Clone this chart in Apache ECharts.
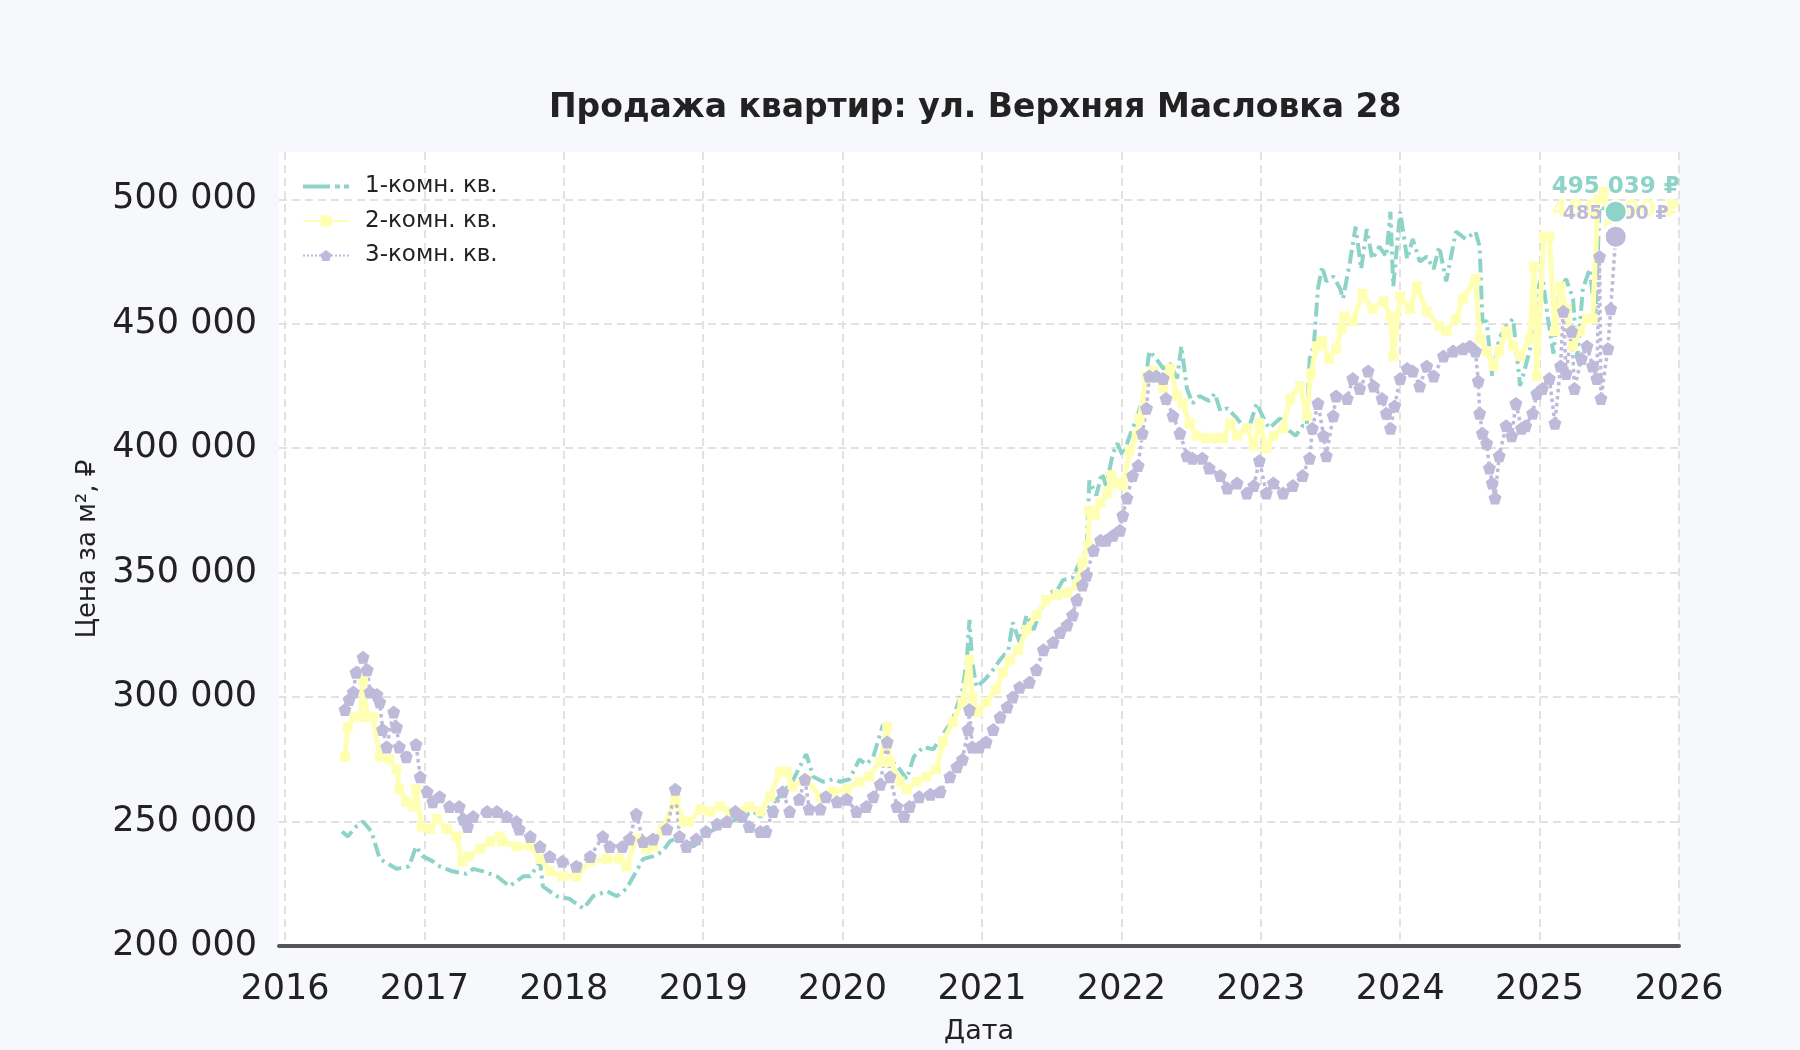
<!DOCTYPE html>
<html>
<head>
<meta charset="utf-8">
<script src="https://cdn.jsdelivr.net/npm/echarts@6/dist/echarts.min.js"></script>
<style>
  html, body { margin: 0; padding: 0; background: #f7f8fc; }
  #chart { width: 1800px; height: 1050px; }
</style>
</head>
<body>
<div id="chart"></div>
<script>
// годы (дробные) и цена за м²
const seriesNames = ['1-комн. кв.', '2-комн. кв.', '3-комн. кв.'];
const seriesColors = ['#8dd3c7', '#ffffb3', '#bebada'];

const oneRoom = [
  [2016.41, 246000], [2016.45, 244000], [2016.51, 248000], [2016.56, 250000], [2016.62, 246000],
  [2016.68, 235000], [2016.74, 233000], [2016.80, 231000], [2016.89, 232000], [2016.94, 240000],
  [2016.99, 236000], [2017.06, 234000], [2017.11, 232000], [2017.20, 230000], [2017.30, 229000],
  [2017.35, 231000], [2017.42, 230000], [2017.52, 228000], [2017.61, 224000], [2017.71, 228000],
  [2017.76, 228000], [2017.83, 234000], [2017.85, 224000], [2017.95, 220000], [2018.04, 219000],
  [2018.14, 215000], [2018.21, 220000], [2018.31, 222000], [2018.38, 220000], [2018.45, 223000],
  [2018.50, 228000], [2018.57, 235000], [2018.64, 236000], [2018.71, 238000], [2018.76, 242000],
  [2018.83, 244000], [2018.93, 240000], [2019.05, 246000], [2019.20, 250000], [2019.36, 254000],
  [2019.41, 252000], [2019.53, 259000], [2019.64, 266000], [2019.72, 275000], [2019.74, 277000],
  [2019.79, 268000], [2019.86, 266000], [2019.93, 267000], [2019.98, 266000], [2020.05, 267000],
  [2020.12, 275000], [2020.17, 273000], [2020.22, 276000], [2020.29, 289000], [2020.34, 275000],
  [2020.41, 271000], [2020.46, 267000], [2020.51, 276000], [2020.58, 280000], [2020.65, 279000],
  [2020.72, 285000], [2020.79, 291000], [2020.86, 303000], [2020.89, 314000], [2020.91, 331000],
  [2020.93, 314000], [2020.96, 304000], [2021.02, 307000], [2021.08, 311000], [2021.13, 315000],
  [2021.19, 319000], [2021.22, 330000], [2021.27, 322000], [2021.32, 333000], [2021.37, 327000],
  [2021.42, 335000], [2021.49, 342000], [2021.54, 343000], [2021.58, 347000], [2021.65, 348000],
  [2021.70, 354000], [2021.75, 359000], [2021.77, 387000], [2021.82, 381000], [2021.86, 390000],
  [2021.89, 385000], [2021.94, 398000], [2021.97, 402000], [2022.01, 397000], [2022.06, 405000],
  [2022.11, 412000], [2022.16, 421000], [2022.20, 439000], [2022.25, 436000], [2022.30, 432000],
  [2022.35, 434000], [2022.40, 428000], [2022.43, 441000], [2022.47, 424000], [2022.51, 418000],
  [2022.56, 421000], [2022.63, 419000], [2022.67, 422000], [2022.71, 415000], [2022.76, 416000],
  [2022.83, 412000], [2022.88, 408000], [2022.92, 409000], [2022.97, 418000], [2023.02, 412000],
  [2023.06, 408000], [2023.14, 412000], [2023.18, 408000], [2023.25, 405000], [2023.30, 409000],
  [2023.33, 409000], [2023.35, 436000], [2023.38, 441000], [2023.41, 464000], [2023.44, 473000],
  [2023.47, 467000], [2023.52, 469000], [2023.57, 464000], [2023.59, 460000], [2023.64, 475000],
  [2023.68, 489000], [2023.72, 472000], [2023.76, 488000], [2023.80, 476000], [2023.85, 481000],
  [2023.90, 477000], [2023.93, 495000], [2023.95, 465000], [2024.00, 495000], [2024.05, 476000],
  [2024.09, 484000], [2024.14, 475000], [2024.19, 477000], [2024.24, 472000], [2024.28, 481000],
  [2024.33, 467000], [2024.40, 487000], [2024.47, 484000], [2024.54, 487000], [2024.57, 481000],
  [2024.59, 451000], [2024.62, 451000], [2024.66, 429000], [2024.71, 444000], [2024.76, 449000],
  [2024.81, 452000], [2024.86, 425000], [2024.90, 433000], [2024.95, 444000], [2024.98, 463000],
  [2025.02, 469000], [2025.06, 452000], [2025.10, 438000], [2025.14, 463000], [2025.19, 468000],
  [2025.24, 460000], [2025.27, 436000], [2025.31, 464000], [2025.36, 472000], [2025.40, 452000],
  [2025.43, 497000], [2025.48, 496000], [2025.546, 495039]
];

const twoRoom = [
  [2016.43, 276000], [2016.45, 288000], [2016.50, 292000], [2016.54, 292000], [2016.56, 307000],
  [2016.59, 292000], [2016.63, 292000], [2016.68, 276000], [2016.75, 275000], [2016.80, 271000],
  [2016.82, 263000], [2016.87, 258000], [2016.92, 256000], [2016.94, 263000], [2016.98, 248000],
  [2017.04, 247000], [2017.09, 251000], [2017.16, 247000], [2017.23, 244000], [2017.27, 234000],
  [2017.32, 236000], [2017.40, 239000], [2017.47, 242000], [2017.54, 244000], [2017.56, 242000],
  [2017.66, 240000], [2017.76, 240000], [2017.83, 235000], [2017.90, 230000], [2017.99, 228000],
  [2018.09, 228000], [2018.19, 234000], [2018.31, 235000], [2018.40, 235000], [2018.45, 232000],
  [2018.52, 243000], [2018.59, 239000], [2018.64, 240000], [2018.71, 247000], [2018.80, 259000],
  [2018.86, 250000], [2018.90, 250000], [2018.98, 255000], [2019.05, 254000], [2019.12, 256000],
  [2019.19, 254000], [2019.28, 254000], [2019.33, 256000], [2019.41, 254000], [2019.48, 260000],
  [2019.55, 270000], [2019.60, 270000], [2019.64, 264000], [2019.74, 267000], [2019.84, 260000],
  [2019.93, 262000], [2020.03, 263000], [2020.12, 266000], [2020.19, 268000], [2020.27, 274000],
  [2020.32, 288000], [2020.34, 274000], [2020.41, 266000], [2020.46, 263000], [2020.53, 266000],
  [2020.60, 268000], [2020.67, 271000], [2020.72, 282000], [2020.79, 290000], [2020.86, 298000],
  [2020.91, 315000], [2020.93, 300000], [2020.97, 294000], [2021.03, 298000], [2021.10, 303000],
  [2021.15, 310000], [2021.20, 315000], [2021.26, 319000], [2021.32, 327000], [2021.39, 333000],
  [2021.46, 339000], [2021.54, 341000], [2021.61, 342000], [2021.68, 345000], [2021.72, 354000],
  [2021.76, 361000], [2021.77, 375000], [2021.81, 373000], [2021.85, 378000], [2021.90, 382000],
  [2021.93, 389000], [2021.97, 386000], [2022.01, 385000], [2022.06, 399000], [2022.11, 405000],
  [2022.13, 412000], [2022.18, 429000], [2022.23, 431000], [2022.30, 424000], [2022.35, 432000],
  [2022.40, 421000], [2022.44, 418000], [2022.49, 410000], [2022.54, 405000], [2022.61, 404000],
  [2022.68, 404000], [2022.73, 404000], [2022.78, 410000], [2022.83, 405000], [2022.90, 408000],
  [2022.95, 401000], [2022.99, 410000], [2023.04, 400000], [2023.09, 405000], [2023.16, 408000],
  [2023.21, 420000], [2023.28, 425000], [2023.33, 413000], [2023.36, 430000], [2023.40, 441000],
  [2023.44, 443000], [2023.49, 436000], [2023.54, 440000], [2023.58, 448000], [2023.60, 453000],
  [2023.66, 451000], [2023.73, 462000], [2023.80, 456000], [2023.88, 459000], [2023.93, 453000],
  [2023.95, 437000], [2024.00, 461000], [2024.07, 456000], [2024.12, 465000], [2024.19, 455000],
  [2024.28, 449000], [2024.33, 447000], [2024.40, 452000], [2024.45, 460000], [2024.54, 468000],
  [2024.57, 444000], [2024.62, 439000], [2024.67, 433000], [2024.71, 439000], [2024.76, 447000],
  [2024.81, 441000], [2024.86, 437000], [2024.93, 444000], [2024.96, 473000], [2024.98, 429000],
  [2025.03, 485000], [2025.07, 485000], [2025.11, 447000], [2025.15, 465000], [2025.19, 456000],
  [2025.24, 441000], [2025.29, 447000], [2025.34, 452000], [2025.38, 452000], [2025.42, 500000],
  [2025.46, 503000], [2025.50, 490000], [2025.546, 486000]
];

const threeRoom = [
  [2016.43, 295000], [2016.46, 299000], [2016.49, 302000], [2016.51, 310000], [2016.56, 316000],
  [2016.59, 311000], [2016.61, 302000], [2016.66, 301000], [2016.68, 298000], [2016.70, 287000],
  [2016.73, 280000], [2016.78, 294000], [2016.80, 288000], [2016.82, 280000], [2016.87, 276000],
  [2016.94, 281000], [2016.97, 268000], [2017.02, 262000], [2017.06, 258000], [2017.11, 260000],
  [2017.18, 256000], [2017.25, 256000], [2017.28, 251000], [2017.31, 248000], [2017.35, 252000],
  [2017.45, 254000], [2017.52, 254000], [2017.59, 252000], [2017.66, 250000], [2017.68, 247000],
  [2017.76, 244000], [2017.83, 240000], [2017.90, 236000], [2017.99, 234000], [2018.09, 232000],
  [2018.19, 236000], [2018.28, 244000], [2018.33, 240000], [2018.42, 240000], [2018.47, 243000],
  [2018.52, 253000], [2018.57, 242000], [2018.64, 243000], [2018.74, 247000], [2018.80, 263000],
  [2018.83, 244000], [2018.88, 240000], [2018.95, 243000], [2019.02, 246000], [2019.10, 249000],
  [2019.17, 250000], [2019.23, 254000], [2019.28, 252000], [2019.33, 248000], [2019.41, 246000],
  [2019.45, 246000], [2019.50, 254000], [2019.57, 262000], [2019.62, 254000], [2019.69, 259000],
  [2019.73, 267000], [2019.76, 255000], [2019.84, 255000], [2019.88, 260000], [2019.96, 258000],
  [2020.03, 259000], [2020.10, 254000], [2020.17, 256000], [2020.22, 260000], [2020.27, 265000],
  [2020.32, 282000], [2020.34, 268000], [2020.39, 256000], [2020.44, 252000], [2020.48, 256000],
  [2020.55, 260000], [2020.63, 261000], [2020.70, 262000], [2020.77, 268000], [2020.82, 272000],
  [2020.86, 275000], [2020.90, 287000], [2020.91, 295000], [2020.93, 280000], [2020.98, 280000],
  [2021.03, 282000], [2021.08, 287000], [2021.13, 292000], [2021.18, 296000], [2021.22, 300000],
  [2021.27, 304000], [2021.34, 306000], [2021.39, 311000], [2021.44, 319000], [2021.51, 322000],
  [2021.56, 326000], [2021.61, 329000], [2021.65, 333000], [2021.68, 339000], [2021.72, 345000],
  [2021.75, 349000], [2021.80, 359000], [2021.85, 363000], [2021.89, 363000], [2021.94, 365000],
  [2021.99, 367000], [2022.01, 373000], [2022.04, 380000], [2022.08, 389000], [2022.12, 393000],
  [2022.15, 406000], [2022.18, 416000], [2022.20, 429000], [2022.25, 429000], [2022.30, 428000],
  [2022.32, 420000], [2022.37, 413000], [2022.42, 406000], [2022.47, 397000], [2022.51, 396000],
  [2022.58, 396000], [2022.63, 392000], [2022.71, 389000], [2022.76, 384000], [2022.83, 386000],
  [2022.90, 382000], [2022.95, 385000], [2022.99, 395000], [2023.04, 382000], [2023.09, 386000],
  [2023.16, 382000], [2023.23, 385000], [2023.30, 389000], [2023.35, 396000], [2023.37, 408000],
  [2023.41, 418000], [2023.45, 405000], [2023.47, 397000], [2023.52, 413000], [2023.54, 421000],
  [2023.62, 420000], [2023.66, 428000], [2023.71, 424000], [2023.77, 431000], [2023.81, 425000],
  [2023.87, 420000], [2023.90, 414000], [2023.93, 408000], [2023.96, 417000], [2024.00, 428000],
  [2024.05, 432000], [2024.09, 431000], [2024.14, 425000], [2024.19, 433000], [2024.24, 429000],
  [2024.31, 437000], [2024.38, 439000], [2024.45, 440000], [2024.50, 441000], [2024.54, 439000],
  [2024.56, 427000], [2024.57, 414000], [2024.59, 406000], [2024.62, 402000], [2024.64, 392000],
  [2024.66, 386000], [2024.68, 380000], [2024.71, 397000], [2024.76, 409000], [2024.80, 405000],
  [2024.83, 418000], [2024.87, 408000], [2024.90, 409000], [2024.95, 414000], [2024.98, 422000],
  [2025.02, 424000], [2025.07, 428000], [2025.11, 410000], [2025.15, 433000], [2025.17, 455000],
  [2025.19, 430000], [2025.23, 447000], [2025.25, 424000], [2025.30, 436000], [2025.34, 441000],
  [2025.38, 433000], [2025.41, 428000], [2025.43, 477000], [2025.44, 420000], [2025.49, 440000],
  [2025.51, 456000], [2025.546, 485000]
];

const yTicks = [200000, 250000, 300000, 350000, 400000, 450000, 500000];

const FONT = 'DejaVu Sans';
const PENTAGON = 'path://M0,-1L0.951,-0.309L0.588,0.809L-0.588,0.809L-0.951,-0.309Z';
// значок штрих-пунктира для легенды
const DASH_DOT_ICON = 'path://M0,0M46,14M0,5h27v4h-27zM32,5h5v4h-5zM41,5h5v4h-5z';

// 500000 -> "500 000"
function fmtNum(v) {
  return String(Math.round(v)).replace(/\B(?=(\d{3})+(?!\d))/g, ' ');
}

const allSeries = [oneRoom, twoRoom, threeRoom];
// последние точки (для подписей)
const lastPoints = allSeries.map(s => s[s.length - 1]);
const labelSizes = [23, 23, 19];

const chart = echarts.init(document.getElementById('chart'), null, { renderer: 'canvas' });

const option = {
  backgroundColor: '#f7f8fc',
  textStyle: { fontFamily: FONT },
  animation: false,
  title: {
    text: 'Продажа квартир: ул. Верхняя Масловка 28',
    left: 549,
    top: 92,
    padding: 0,
    textStyle: { fontFamily: FONT, fontSize: 33, fontWeight: 'bold', color: '#222222' }
  },
  legend: {
    data: [
      { name: seriesNames[0], icon: DASH_DOT_ICON },
      { name: seriesNames[1] },
      { name: seriesNames[2] }
    ],
    orient: 'vertical',
    left: 297,
    top: 170,
    itemWidth: 46,
    itemHeight: 14,
    itemGap: 11.5,
    textStyle: { fontFamily: FONT, fontSize: 23, color: '#222222', padding: [0, 0, 0, 11] }
  },
  grid: {
    left: 279,
    right: 121,
    top: 152,
    bottom: 103,
    show: true,
    backgroundColor: '#ffffff',
    borderWidth: 0
  },
  xAxis: {
    type: 'value',
    min: 2015.957,
    max: 2026,
    splitNumber: 10,
    name: 'Дата',
    nameLocation: 'middle',
    nameGap: 72,
    nameTextStyle: { fontFamily: FONT, fontSize: 27, color: '#222222' },
    axisLine: { show: true, lineStyle: { color: '#555555', width: 4 } },
    axisTick: { show: false },
    axisLabel: {
      fontFamily: FONT, fontSize: 35, color: '#222222', margin: 26,
      showMinLabel: false,
      formatter: v => (Math.abs(v - Math.round(v)) < 1e-6 ? String(Math.round(v)) : '')
    },
    splitLine: {
      show: true, showMinLine: false,
      lineStyle: { color: '#e2e2e2', width: 2, type: [8, 5] }
    }
  },
  yAxis: {
    type: 'value',
    min: 200000,
    max: 519000,
    interval: 50000,
    name: 'Цена за м², ₽',
    nameLocation: 'middle',
    nameGap: 167,
    nameRotate: 90,
    nameTextStyle: { fontFamily: FONT, fontSize: 26, color: '#222222' },
    axisLine: { show: false },
    axisTick: { show: false },
    axisLabel: {
      fontFamily: FONT, fontSize: 35, color: '#222222', margin: 22,
      showMaxLabel: false,
      formatter: v => (yTicks.indexOf(v) >= 0 ? fmtNum(v) : '')
    },
    splitLine: {
      show: true, showMaxLine: false,
      lineStyle: { color: '#e2e2e2', width: 2, type: [8, 5] }
    }
  },
  series: [
    {
      name: seriesNames[0],
      type: 'line',
      data: oneRoom,
      symbol: 'none',
      color: seriesColors[0],
      lineStyle: { width: 4, type: [14, 5, 3, 5], color: seriesColors[0] },
      z: 2
    },
    {
      name: seriesNames[1],
      type: 'line',
      data: twoRoom,
      symbol: 'rect',
      symbolSize: 10,
      showAllSymbol: true,
      color: seriesColors[1],
      itemStyle: { color: seriesColors[1] },
      lineStyle: { width: 5, color: seriesColors[1] },
      z: 2
    },
    {
      name: seriesNames[2],
      type: 'line',
      data: threeRoom,
      symbol: PENTAGON,
      symbolSize: 13,
      showAllSymbol: true,
      color: seriesColors[2],
      itemStyle: { color: seriesColors[2] },
      lineStyle: { width: 3.5, type: 'dotted', color: seriesColors[2] },
      z: 2
    },
    {
      // подписи последних значений
      name: 'endLabels',
      type: 'scatter',
      symbol: 'circle',
      symbolSize: 22,
      z: 3,
      silent: true,
      itemStyle: { color: 'rgba(0,0,0,0)', opacity: 1 },
      data: lastPoints.map((p, i) => ({
        value: p,
        label: {
          show: true,
          position: 'top',
          distance: 2,
          fontFamily: FONT,
          fontWeight: 'bold',
          fontSize: labelSizes[i],
          color: seriesColors[i],
          formatter: fmtNum(p[1]) + ' ₽'
        }
      }))
    },
    {
      // маркеры последних значений
      name: 'endDots',
      type: 'scatter',
      symbol: 'circle',
      symbolSize: 22,
      z: 5,
      silent: true,
      data: [1, 2, 0].map(i => ({
        value: lastPoints[i],
        itemStyle: { color: seriesColors[i], borderColor: '#ffffff', borderWidth: 2, opacity: 1 }
      }))
    }
  ]
};

chart.setOption(option);
</script>
</body>
</html>
